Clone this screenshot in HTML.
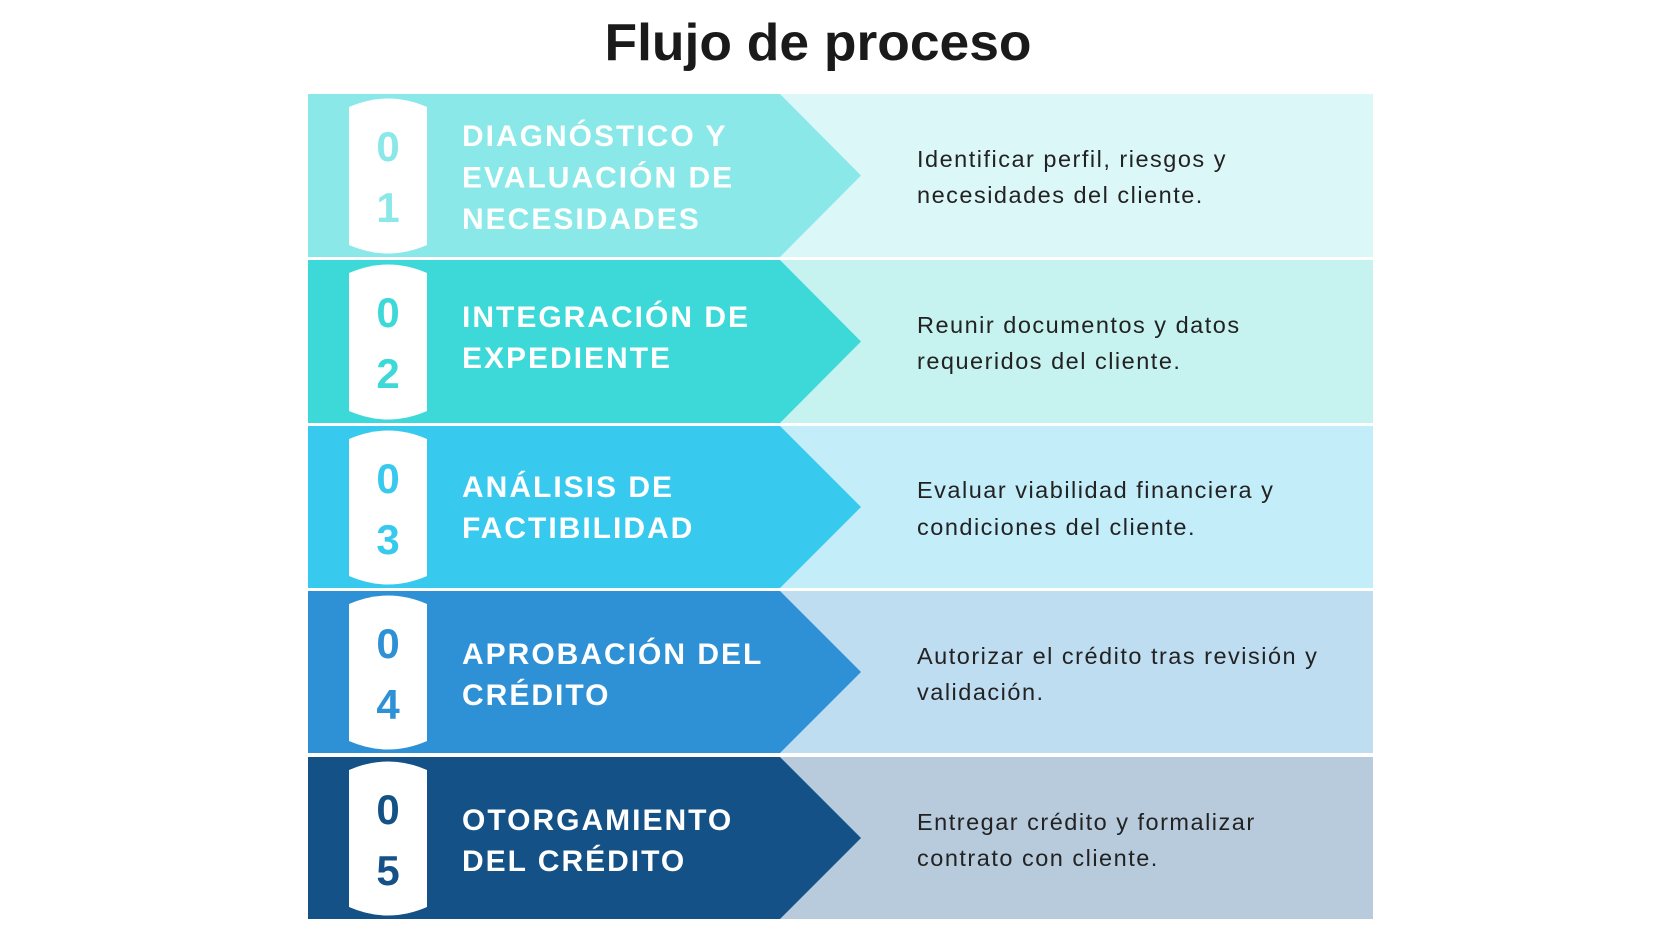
<!DOCTYPE html>
<html><head><meta charset="utf-8"><style>
html,body{margin:0;padding:0;background:#fff;}
svg{display:block}
.t{font-family:"Liberation Sans",sans-serif;font-weight:bold;font-size:30px;fill:#fff;letter-spacing:2px}
.d{font-family:"Liberation Sans",sans-serif;font-size:23.5px;fill:#222;letter-spacing:1.5px}
.n{font-family:"Liberation Sans",sans-serif;font-weight:bold;font-size:42px;text-anchor:middle}
</style></head><body>
<svg width="1680" height="945" viewBox="0 0 1680 945" xmlns="http://www.w3.org/2000/svg">
<text x="818" y="60" text-anchor="middle" font-family="Liberation Sans, sans-serif" font-weight="bold" font-size="52" fill="#1a1a1a" textLength="427" lengthAdjust="spacingAndGlyphs">Flujo de proceso</text>

<!-- row 1 -->
<g transform="translate(0,94)">
<rect x="308" y="0" width="1065" height="163" fill="#DCF7F8"/>
<polygon points="308,0 780,0 861,81.5 780,163 308,163" fill="#8AE8E8"/>
<path d="M349,13 Q388,-4 427,13 L427,151 Q388,168 349,151 Z" fill="#fff"/>
<text class="n" x="388" y="67" fill="#8AE8E8">0</text>
<text class="n" x="388" y="128" fill="#8AE8E8">1</text>
<text class="t" x="462" y="52">DIAGNÓSTICO Y</text>
<text class="t" x="462" y="93.5">EVALUACIÓN DE</text>
<text class="t" x="462" y="135">NECESIDADES</text>
<text class="d" x="917" y="73">Identificar perfil, riesgos y</text>
<text class="d" x="917" y="109">necesidades del cliente.</text>
</g>

<!-- row 2 -->
<g transform="translate(0,260)">
<rect x="308" y="0" width="1065" height="163" fill="#C6F2F0"/>
<polygon points="308,0 780,0 861,81.5 780,163 308,163" fill="#3DD9D8"/>
<path d="M349,13 Q388,-4 427,13 L427,151 Q388,168 349,151 Z" fill="#fff"/>
<text class="n" x="388" y="67" fill="#3DD9D8">0</text>
<text class="n" x="388" y="128" fill="#3DD9D8">2</text>
<text class="t" x="462" y="67">INTEGRACIÓN DE</text>
<text class="t" x="462" y="108">EXPEDIENTE</text>
<text class="d" x="917" y="73">Reunir documentos y datos</text>
<text class="d" x="917" y="109">requeridos del cliente.</text>
</g>

<!-- row 3 -->
<g transform="translate(0,426)">
<rect x="308" y="0" width="1065" height="162" fill="#C4EDFA"/>
<polygon points="308,0 780,0 861,81 780,162 308,162" fill="#38C9EE"/>
<path d="M349,13 Q388,-4 427,13 L427,150 Q388,167 349,150 Z" fill="#fff"/>
<text class="n" x="388" y="67" fill="#38C9EE">0</text>
<text class="n" x="388" y="128" fill="#38C9EE">3</text>
<text class="t" x="462" y="71">ANÁLISIS DE</text>
<text class="t" x="462" y="112">FACTIBILIDAD</text>
<text class="d" x="917" y="72">Evaluar viabilidad financiera y</text>
<text class="d" x="917" y="109">condiciones del cliente.</text>
</g>

<!-- row 4 -->
<g transform="translate(0,591)">
<rect x="308" y="0" width="1065" height="162" fill="#BEDDF1"/>
<polygon points="308,0 780,0 861,81 780,162 308,162" fill="#2E91D5"/>
<path d="M349,13 Q388,-4 427,13 L427,150 Q388,167 349,150 Z" fill="#fff"/>
<text class="n" x="388" y="67" fill="#2E91D5">0</text>
<text class="n" x="388" y="128" fill="#2E91D5">4</text>
<text class="t" x="462" y="73">APROBACIÓN DEL</text>
<text class="t" x="462" y="114">CRÉDITO</text>
<text class="d" x="917" y="73">Autorizar el crédito tras revisión y</text>
<text class="d" x="917" y="109">validación.</text>
</g>

<!-- row 5 -->
<g transform="translate(0,757)">
<rect x="308" y="0" width="1065" height="162" fill="#B8CBDD"/>
<polygon points="308,0 780,0 861,81 780,162 308,162" fill="#145186"/>
<path d="M349,13 Q388,-4 427,13 L427,150 Q388,167 349,150 Z" fill="#fff"/>
<text class="n" x="388" y="67" fill="#145186">0</text>
<text class="n" x="388" y="128" fill="#145186">5</text>
<text class="t" x="462" y="73">OTORGAMIENTO</text>
<text class="t" x="462" y="114">DEL CRÉDITO</text>
<text class="d" x="917" y="73">Entregar crédito y formalizar</text>
<text class="d" x="917" y="109">contrato con cliente.</text>
</g>
</svg>
</body></html>
